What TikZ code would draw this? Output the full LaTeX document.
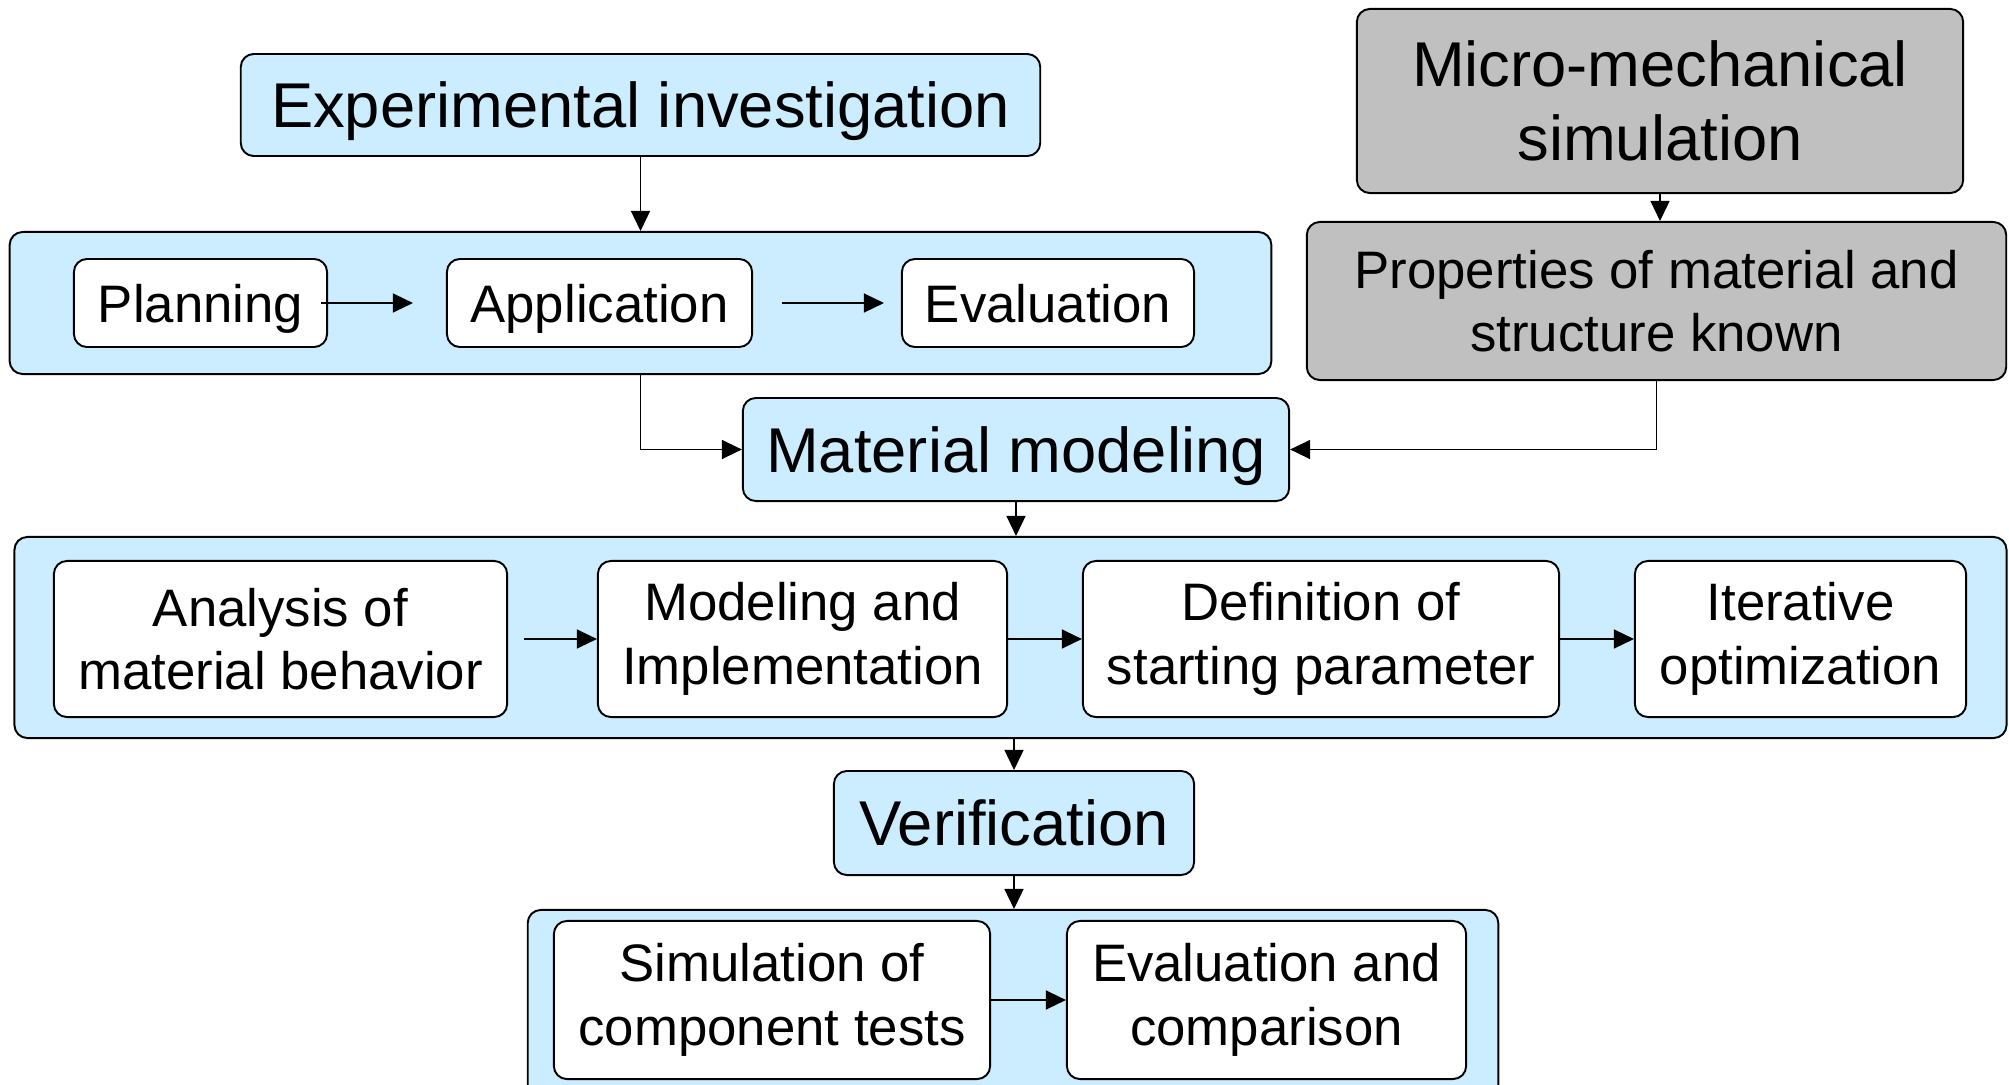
\documentclass[tikz,border=0pt]{standalone}
\usepackage{fontspec}
\setmainfont{Liberation Sans}
\usetikzlibrary{arrows.meta,positioning}

\definecolor{paleblue}{RGB}{204,236,255}
\definecolor{simgray}{RGB}{192,192,192}

\begin{document}
\begin{tikzpicture}[x=0.01cm,y=-0.01cm,->,>={Triangle[length=2mm,width=1.9mm]},
  line width=0.4pt,
  frame box/.style={rectangle,rounded corners=1.3mm,draw,fill=paleblue,
    line width=0.55pt,inner sep=0pt},
  head node/.style={frame box,align=center,text depth=0pt,
    font=\fontsize{18}{21}\selectfont},
  task node/.style={rectangle,rounded corners=1.3mm,draw,fill=white,
    line width=0.55pt,inner sep=0pt,align=center,
    font=\fontsize{15}{18}\selectfont},
  one line/.style={text depth=0pt},
  sim node/.style={task node,fill=simgray}]

  \clip (0,0) rectangle (2009,1085);

  % frames behind the single steps
  \node[frame box,minimum width=12.61cm,minimum height=1.42cm] (expframe) at (640.5,303) {};
  \node[frame box,minimum width=19.91cm,minimum height=2.01cm] (modframe) at (1010.5,637.5) {};
  \node[frame box,minimum width=9.70cm,minimum height=1.90cm]  (verframe) at (1013,1005) {};

  % main stages
  \node[head node,minimum width=7.99cm,minimum height=1.02cm] (exp)   at (640.5,105) {Experimental investigation};
  \node[head node,minimum width=5.46cm,minimum height=1.03cm] (model) at (1016,449.5) {Material modeling};
  \node[head node,minimum width=3.60cm,minimum height=1.04cm] (verif) at (1014,823)   {Verification};

  \node[sim node,font=\fontsize{18}{21}\selectfont,
        minimum width=6.06cm,minimum height=1.84cm] (micro) at (1660,101)   {Micro-mechanical\\simulation};
  \node[sim node,minimum width=6.99cm,minimum height=1.58cm] (props) at (1656.5,301) {Properties of material and\\structure known};

  % experiment steps
  \node[task node,one line,minimum width=2.53cm,minimum height=0.88cm] (plan) at (200.5,303) {Planning};
  \node[task node,one line,minimum width=3.05cm,minimum height=0.88cm] (appl) at (599.5,303) {Application};
  \node[task node,one line,minimum width=2.92cm,minimum height=0.88cm] (eval) at (1048,303)  {Evaluation};

  % modeling steps
  \node[task node,minimum width=4.53cm,minimum height=1.56cm] (anal) at (280.5,639)  {Analysis of\\material behavior};
  \node[task node,minimum width=4.09cm,minimum height=1.56cm] (impl) at (802.5,639)  {Modeling and\\Implementation};
  \node[task node,minimum width=4.76cm,minimum height=1.56cm] (defn) at (1321,639)   {Definition of\\starting parameter};
  \node[task node,minimum width=3.31cm,minimum height=1.56cm] (iter) at (1800.5,639) {Iterative\\optimization};

  % verification steps
  \node[task node,minimum width=4.36cm,minimum height=1.58cm] (sim)  at (772,1000)    {Simulation of\\component tests};
  \node[task node,minimum width=3.99cm,minimum height=1.58cm] (comp) at (1266.5,1000) {Evaluation and\\comparison};

  \path
    (exp)   edge (exp |- expframe.north)
    (micro) edge (micro |- props.north)
    (model) edge (model |- modframe.north)
    (verif |- modframe.south) edge (verif)
    (verif) edge (verif |- verframe.north)
    (plan)  edge[shorten <=-0.7mm,shorten >=3.3mm] (appl)
    (appl)  edge[shorten <=2.9mm,shorten >=1.7mm] (eval)
    (anal)  edge[shorten <=1.6mm] (impl)
    (impl)  edge (defn)
    (defn)  edge (iter)
    (sim)   edge (comp);

  \draw (expframe.south -| exp) |- (model);
  \draw (props) |- (model);

\end{tikzpicture}
\end{document}
